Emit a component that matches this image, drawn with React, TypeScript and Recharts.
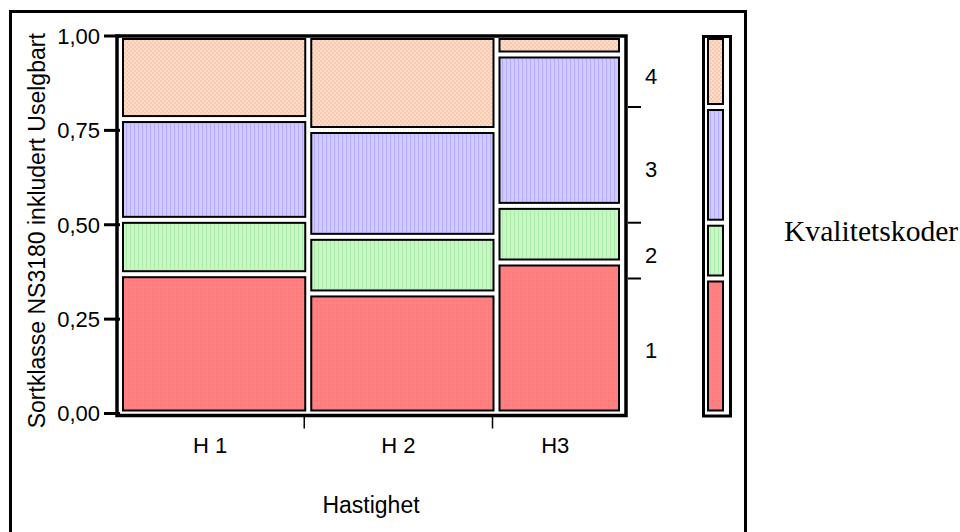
import { ScatterChart, Scatter, XAxis, YAxis, ReferenceArea } from 'recharts';

// Hastighet columns and their share of all boards
const speeds = ['H 1', 'H 2', 'H3'];
const speedShare = [0.375, 0.375, 0.25];

// Share of each quality code inside each speed column (H 1, H 2, H3)
const codes = ['1', '2', '3', '4'];
const code1Share = [0.369, 0.318, 0.4];
const code2Share = [0.144, 0.15, 0.15];
const code3Share = [0.267, 0.283, 0.401];
const code4Share = [0.22, 0.249, 0.049];

const yTicks = [0, 0.25, 0.5, 0.75, 1];
const yTickLabels = ['0,00', '0,25', '0,50', '0,75', '1,00'];

const codeShares = [code1Share, code2Share, code3Share, code4Share];
const SANS = '"Liberation Sans", Arial, Helvetica, sans-serif';

type Tile = { key: string; x1: number; x2: number; y1: number; y2: number; code: number };

// mosaic tiles: column width = speed share, tile height = code share in that column
const tiles: Tile[] = [];
let colStart = 0;
speeds.forEach((s, i) => {
  let yStart = 0;
  codeShares.forEach((shares, k) => {
    tiles.push({ key: `${s}-${k}`, x1: colStart, x2: colStart + speedShare[i], y1: yStart, y2: yStart + shares[i], code: k });
    yStart += shares[i];
  });
  colStart += speedShare[i];
});
const tileCenters = tiles.map(t => ({ x: (t.x1 + t.x2) / 2, y: (t.y1 + t.y2) / 2 }));

const colBounds = speedShare.slice(0, -1).map((_, i) => speedShare.slice(0, i + 1).reduce((a, b) => a + b, 0));
const colCenters = speedShare.map((w, i) => speedShare.slice(0, i).reduce((a, b) => a + b, 0) + w / 2);

// overall distribution of codes (right axis + legend bar)
const marginal = codeShares.map(shares => shares.reduce((acc, v, i) => acc + v * speedShare[i], 0));
const margTiles = marginal.map((m, k) => {
  const start = marginal.slice(0, k).reduce((a, b) => a + b, 0);
  return { y1: start, y2: start + m, code: k };
});
const margCenters = margTiles.map(t => ({ x: 0.5, y: (t.y1 + t.y2) / 2 }));
const margBounds = margTiles.slice(0, -1).map(t => t.y2);
const margMids = margTiles.map(t => (t.y1 + t.y2) / 2);

function Patterns({ prefix }: { prefix: string }) {
  return (
    <defs>
      <pattern id={`${prefix}0`} width={4} height={4} patternUnits="userSpaceOnUse">
        <rect width={4} height={4} fill="#FF8080" />
        <rect width={2} height={2} fill="#FC7B7B" />
      </pattern>
      <pattern id={`${prefix}1`} width={4} height={4} patternUnits="userSpaceOnUse">
        <rect width={4} height={4} fill="#C8F7C5" />
        <rect x={2} width={1} height={4} fill="#ACEBAA" />
      </pattern>
      <pattern id={`${prefix}2`} width={4} height={4} patternUnits="userSpaceOnUse">
        <rect width={4} height={4} fill="#D0CAFF" />
        <rect x={2} width={1} height={4} fill="#B6ACFF" />
      </pattern>
      <pattern id={`${prefix}3`} width={4} height={4} patternUnits="userSpaceOnUse">
        <rect width={4} height={4} fill="#FFDCC8" />
        <rect width={2} height={2} fill="#F9CAB0" />
        <rect x={2} y={2} width={2} height={2} fill="#F9CAB0" />
      </pattern>
    </defs>
  );
}

const tileShape = (props: any) => (
  <rect
    x={props.x + 3}
    y={props.y + 3}
    width={Math.max(props.width - 6, 0)}
    height={Math.max(props.height - 6, 0)}
    fill={props.fill}
    stroke="#000"
    strokeWidth={2}
  />
);

const plotFrame = (props: any) => (
  <rect x={props.x - 3} y={props.y} width={props.width + 7} height={props.height + 2} fill="none" stroke="#000" strokeWidth={3.5} />
);

const legendFrame = (props: any) => (
  <rect x={props.x - 1.5} y={props.y + 0.5} width={props.width + 6} height={props.height + 2} fill="none" stroke="#000" strokeWidth={3} />
);

function SpeedTick({ x, y, payload }: any) {
  const v = payload.value;
  if (colBounds.includes(v)) {
    return <line x1={x - 4} x2={x - 4} y1={y + 3} y2={y + 15} stroke="#000" strokeWidth={1.5} />;
  }
  const i = colCenters.indexOf(v);
  return (
    <text x={x - 4} y={y + 39} textAnchor="middle" fill="#000" fontSize={22} fontFamily={SANS}>
      {speeds[i]}
    </text>
  );
}

function CodeTick({ x, y, payload }: any) {
  const v = payload.value;
  if (margBounds.includes(v)) {
    return <line x1={x + 6} x2={x + 19} y1={y} y2={y} stroke="#000" strokeWidth={2} />;
  }
  const k = margMids.indexOf(v);
  return (
    <text x={x + 29} y={y + 12} textAnchor="middle" fill="#000" fontSize={22} fontFamily={SANS}>
      {codes[k]}
    </text>
  );
}

function YTitle({ viewBox }: any) {
  const cx = viewBox.x + 35;
  const cy = viewBox.y + viewBox.height / 2 + 6;
  return (
    <text x={cx} y={cy} transform={`rotate(-90 ${cx} ${cy})`} textAnchor="middle" fill="#000" fontSize={23} fontFamily={SANS}>
      Sortklasse NS3180 inkludert Uselgbart
    </text>
  );
}

export default function App() {
  return (
    <div style={{ position: 'absolute', left: 0, top: 0, width: 960, height: 532, overflow: 'hidden', background: '#fff' }}>
      <div style={{ position: 'absolute', left: 9, top: 10, width: 738, height: 600, border: '3px solid #000', boxSizing: 'border-box' }} />

      <div style={{ position: 'absolute', left: 0, top: 0 }}>
        <ScatterChart width={960} height={532} margin={{ top: 36, right: 278, bottom: 0, left: 10 }}>
          <Patterns prefix="mos" />
          <XAxis
            xAxisId="x"
            dataKey="x"
            type="number"
            domain={[0, 1]}
            allowDataOverflow
            ticks={[...colBounds, ...colCenters]}
            interval={0}
            height={118.5}
            axisLine={false}
            tickLine={false}
            tickSize={0}
            tickMargin={0}
            tick={<SpeedTick />}
            label={{ value: 'Hastighet', position: 'insideBottom', offset: 19, fill: '#000', fontSize: 23, fontFamily: SANS }}
          />
          <YAxis
            yAxisId="left"
            dataKey="y"
            type="number"
            domain={[0, 1]}
            allowDataOverflow
            ticks={yTicks}
            interval={0}
            width={110}
            axisLine={false}
            tickSize={16}
            tickMargin={4}
            tickLine={{ stroke: '#000', strokeWidth: 3 }}
            tickFormatter={(v: number) => yTickLabels[yTicks.indexOf(v)]}
            tick={{ fill: '#000', fontSize: 22, fontFamily: SANS }}
            label={(p: any) => <YTitle {...p} />}
          />
          <YAxis
            yAxisId="right"
            orientation="right"
            dataKey="y"
            type="number"
            domain={[0, 1]}
            allowDataOverflow
            ticks={[...margBounds, ...margMids]}
            interval={0}
            width={60}
            axisLine={false}
            tickLine={false}
            tickSize={0}
            tickMargin={0}
            tick={<CodeTick />}
          />
          {/* anchors the axes to the tile data; tiles themselves are drawn as areas */}
          <Scatter xAxisId="x" yAxisId="left" data={tileCenters} shape={() => <g />} isAnimationActive={false} />
          <Scatter xAxisId="x" yAxisId="right" data={tileCenters} shape={() => <g />} isAnimationActive={false} />
          {tiles.map(t => (
            <ReferenceArea
              key={t.key}
              xAxisId="x"
              yAxisId="left"
              x1={t.x1}
              x2={t.x2}
              y1={t.y1}
              y2={t.y2}
              fill={`url(#mos${t.code})`}
              shape={tileShape}
            />
          ))}
          <ReferenceArea xAxisId="x" yAxisId="left" x1={0} x2={1} y1={0} y2={1} shape={plotFrame} />
        </ScatterChart>
      </div>

      <div style={{ position: 'absolute', left: 680, top: 0 }}>
        <ScatterChart width={80} height={532} margin={{ top: 36, right: 34, bottom: 118.5, left: 25 }}>
          <Patterns prefix="leg" />
          <XAxis xAxisId="lx" dataKey="x" type="number" domain={[0, 1]} allowDataOverflow hide />
          <YAxis yAxisId="ly" dataKey="y" type="number" domain={[0, 1]} allowDataOverflow hide />
          <Scatter xAxisId="lx" yAxisId="ly" data={margCenters} shape={() => <g />} isAnimationActive={false} />
          {margTiles.map(t => (
            <ReferenceArea
              key={t.code}
              xAxisId="lx"
              yAxisId="ly"
              x1={0}
              x2={1}
              y1={t.y1}
              y2={t.y2}
              fill={`url(#leg${t.code})`}
              shape={tileShape}
            />
          ))}
          <ReferenceArea xAxisId="lx" yAxisId="ly" x1={0} x2={1} y1={0} y2={1} shape={legendFrame} />
        </ScatterChart>
      </div>

      <div style={{ position: 'absolute', left: 784, top: 217, fontFamily: '"Liberation Serif", "Times New Roman", serif', fontSize: 29.6, lineHeight: '29px', color: '#000', whiteSpace: 'nowrap' }}>
        Kvalitetskoder
      </div>
    </div>
  );
}
